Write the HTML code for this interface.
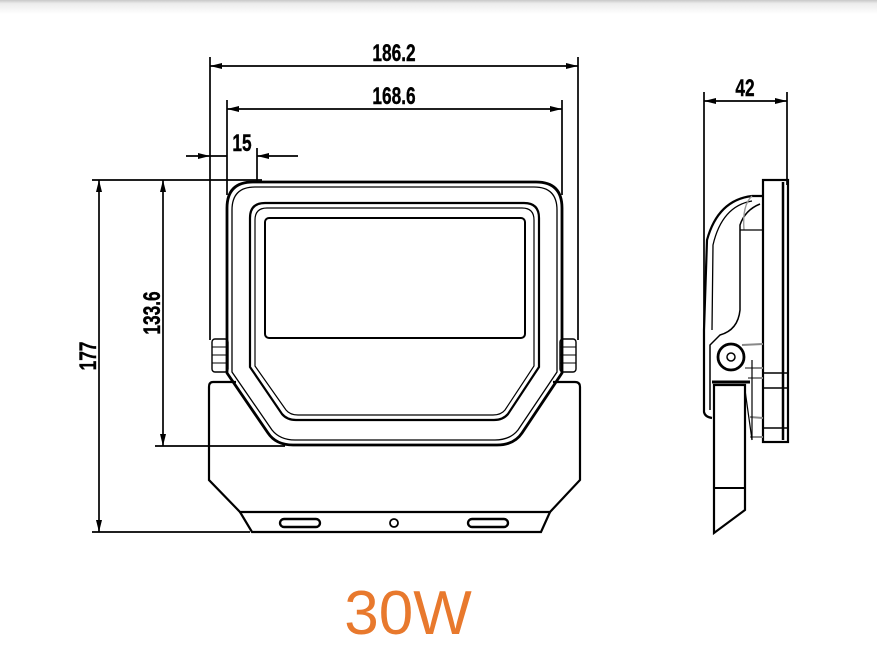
<!DOCTYPE html>
<html><head><meta charset="utf-8"><style>
html,body{margin:0;padding:0;background:#fff;}
body{width:877px;height:672px;overflow:hidden;position:relative;}
.top{position:absolute;left:0;top:0;width:877px;height:14px;background:linear-gradient(#c8c8c8,#ececec 25%,#fff);}
</style></head><body>
<div class="top"></div>
<svg width="877" height="672" viewBox="0 0 877 672" style="position:absolute;left:0;top:0" font-family="Liberation Sans Narrow, Liberation Sans, sans-serif">
<defs>
<marker id="a" viewBox="0 0 12 6" refX="12" refY="3" markerWidth="12" markerHeight="6" orient="auto-start-reverse" markerUnits="userSpaceOnUse"><path d="M0,0 L12,3 L0,6 Z" fill="#000"/></marker>
</defs>
<g stroke="#000" stroke-width="1.7" fill="none">
<line x1="210" y1="57" x2="210" y2="340"/>
<line x1="578" y1="57" x2="578" y2="340"/>
<line x1="227" y1="100" x2="227" y2="195"/>
<line x1="562" y1="100" x2="562" y2="195"/>
<line x1="257" y1="148" x2="257" y2="183"/>
<line x1="92" y1="180" x2="262" y2="180"/>
<line x1="155" y1="446" x2="285" y2="446"/>
<line x1="92" y1="532" x2="250" y2="532"/>
<line x1="210" y1="66" x2="578" y2="66" marker-start="url(#a)" marker-end="url(#a)"/>
<line x1="227" y1="109" x2="562" y2="109" marker-start="url(#a)" marker-end="url(#a)"/>
<line x1="186" y1="156" x2="210" y2="156" marker-end="url(#a)"/>
<line x1="298" y1="156" x2="257" y2="156" marker-end="url(#a)"/>
<line x1="210" y1="156" x2="227" y2="156"/>
<line x1="99" y1="180" x2="99" y2="532" marker-start="url(#a)" marker-end="url(#a)"/>
<line x1="163" y1="180" x2="163" y2="446" marker-start="url(#a)" marker-end="url(#a)"/>
<path d="M227,208 Q227,182 253,182 L536,182 Q562,182 562,208 L562,373 L522,433 Q514,445 497,445 L293,445 Q276,445 268,433 L227,373 Z" stroke-width="2.8"/>
<path d="M232,210 Q232,187 255,187 L534,187 Q557,187 557,210 L557,372 L518,430 Q510,440 495,440 L295,440 Q280,440 272,430 L232,372 Z" stroke-width="1.3"/>
<path d="M250,218 Q250,203 265,203 L524,203 Q539,203 539,218 L539,367 L508,414 Q503,420 494,420 L296,420 Q287,420 282,414 L250,367 Z" stroke-width="2.2"/>
<path d="M255,220 Q255,208 267,208 L522,208 Q534,208 534,220 L534,366 L505,410 Q501,415 493,415 L298,415 Q290,415 286,410 L255,366 Z" stroke-width="1.2"/>
<rect x="265" y="218" width="260" height="120" rx="4" stroke-width="2"/>
<rect x="212" y="339" width="16" height="33" rx="3" stroke-width="1.4"/>
<line x1="212" y1="347" x2="228" y2="347" stroke-width="1"/>
<line x1="212" y1="355" x2="228" y2="355" stroke-width="1"/>
<line x1="212" y1="363" x2="228" y2="363" stroke-width="1"/>
<rect x="560" y="339" width="16" height="33" rx="3" stroke-width="1.4"/>
<line x1="560" y1="347" x2="576" y2="347" stroke-width="1"/>
<line x1="560" y1="355" x2="576" y2="355" stroke-width="1"/>
<line x1="560" y1="363" x2="576" y2="363" stroke-width="1"/>
<path d="M236,382 L213,382 Q209,382 209,387 L209,480 L240,512 L550,512 L580,480 L580,387 Q580,382 575,382 L553,382" stroke-width="2.2"/>
<path d="M240,512 L252,532 L541,532 L550,512" stroke-width="2.2"/>
<rect x="280" y="519" width="40" height="8" rx="4" stroke-width="2.4"/>
<rect x="468" y="519" width="40" height="8" rx="4" stroke-width="2.4"/>
<circle cx="394" cy="523" r="4" stroke-width="1.8"/>
<line x1="704" y1="92" x2="704" y2="335"/>
<line x1="787" y1="92" x2="787" y2="185"/>
<line x1="704" y1="101" x2="787" y2="101" marker-start="url(#a)" marker-end="url(#a)"/>
<rect x="763" y="180" width="25" height="262" stroke-width="2.2"/>
<line x1="783" y1="182" x2="783" y2="440" stroke-width="2.5"/>
<line x1="763" y1="373" x2="788" y2="373" stroke-width="1.4"/>
<line x1="763" y1="388" x2="788" y2="388" stroke-width="1.4"/>
<line x1="763" y1="428" x2="788" y2="428" stroke-width="1.4"/>
<path d="M763,196 L752,196 Q718,200 707,240 L704,330 L704,412 Q705,417 712,418" stroke-width="2.2"/>
<path d="M752,201 Q722,206 713,245 L712,330" stroke-width="1.3"/>
<path d="M760,204 Q745,210 740,225 L740,310 Q738,330 720,335 L710,345 L710,410" stroke-width="1.5"/>
<path d="M752,196 Q742,205 744,230" stroke="#999" stroke-width="1.4"/>
<line x1="740" y1="230" x2="763" y2="230" stroke-width="1.2"/>
<circle cx="731" cy="357" r="13" stroke-width="2.8"/>
<circle cx="731" cy="357" r="4" stroke-width="1.5"/>
<line x1="742" y1="345" x2="763" y2="344" stroke="#888" stroke-width="2"/>
<line x1="745" y1="368" x2="763" y2="368" stroke="#888" stroke-width="2"/>
<line x1="748" y1="378" x2="763" y2="378" stroke="#888" stroke-width="2"/>
<line x1="750" y1="417" x2="763" y2="418" stroke="#888" stroke-width="2"/>
<line x1="750" y1="437" x2="763" y2="437" stroke="#888" stroke-width="2"/>
<line x1="712" y1="382" x2="750" y2="382" stroke-width="3"/>
<path d="M714,385 L745,385 L745,510 L714,533 Z" stroke-width="2.2"/>
<line x1="714" y1="488" x2="745" y2="488" stroke-width="2"/>
<line x1="745" y1="390" x2="752" y2="440" stroke-width="1.2"/>
<line x1="752" y1="360" x2="752" y2="440" stroke-width="1.2"/>
</g>
<g fill="#000" font-weight="bold" font-size="24" text-anchor="middle" stroke="#000" stroke-width="0.4">
<text x="0" y="0" transform="translate(394,61) scale(0.72,1)">186.2</text>
<text x="0" y="0" transform="translate(394,104) scale(0.72,1)">168.6</text>
<text x="0" y="0" transform="translate(242,151) scale(0.72,1)">15</text>
<text x="0" y="0" transform="translate(745,96) scale(0.72,1)">42</text>
<text transform="translate(96,356) rotate(-90) scale(0.72,1)" x="0" y="0">177</text>
<text transform="translate(160,313) rotate(-90) scale(0.72,1)" x="0" y="0">133.6</text>
</g>
<text x="408" y="634" text-anchor="middle" font-family="Liberation Sans, sans-serif" font-size="62" fill="#e8792d">30W</text>
</svg>
</body></html>
